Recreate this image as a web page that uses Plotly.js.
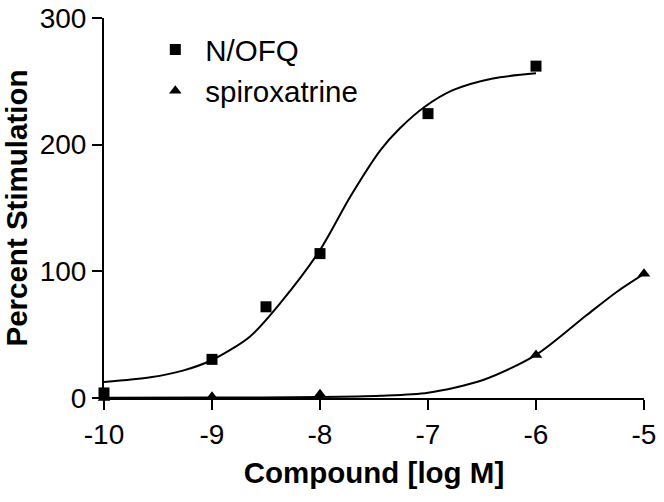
<!DOCTYPE html>
<html>
<head>
<meta charset="utf-8">
<script src="https://cdn.plot.ly/plotly-3.0.1.min.js"></script>
<style>html,body{margin:0;padding:0;background:#fff;}#chart{width:664px;height:502px;}</style>
</head>
<body>
<div id="chart"></div>
<script>
// Measured data points
var nofqX = [-10, -9, -8.5, -8, -7, -6];
var nofqY = [4, 30.5, 72, 114, 224.5, 262];
var spiroX = [-10, -9, -8, -7, -6, -5];
var spiroY = [0, 1, 3, -1, 34, 98];

// Fitted curves
var nofqCurveX = [-10, -9.57, -9.27, -9, -8.65, -8.37, -8, -7.72, -7.44, -7.26, -7.03, -6.77, -6.4, -6];
var nofqCurveY = [12.6, 16.3, 21.6, 30, 48.4, 74.7, 116.8, 158.9, 195.7, 212.9, 229.9, 243, 252.3, 256.3];
var spiroCurveX = [-10, -9, -8, -7.44, -7, -6.49, -6, -5.53, -5.25, -5];
var spiroCurveY = [0.2, 0.3, 0.8, 1.8, 4.2, 14.2, 34, 65.5, 83.9, 98];

var xTicks = [-10, -9, -8, -7, -6, -5];
var yTicks = [0, 100, 200, 300];

var FONT = 'Arial, "Liberation Sans", sans-serif';

var traces = [
  {x: nofqCurveX, y: nofqCurveY, mode: 'lines', line: {color: '#000', width: 2, shape: 'spline', smoothing: 0.8}, showlegend: false, hoverinfo: 'skip'},
  {x: spiroCurveX, y: spiroCurveY, mode: 'lines', line: {color: '#000', width: 2, shape: 'spline', smoothing: 0.8}, showlegend: false, hoverinfo: 'skip'},
  {x: nofqX, y: nofqY, mode: 'markers', name: 'N/OFQ', marker: {symbol: 'square', size: 11, color: '#000'}, cliponaxis: false},
  {x: spiroX, y: spiroY, mode: 'markers', name: 'spiroxatrine', marker: {symbol: 'triangle-up', size: 11, color: '#000'}, cliponaxis: false}
];

var layout = {
  width: 664, height: 502,
  margin: {l: 104, r: 20, t: 18, b: 104},
  paper_bgcolor: '#fff', plot_bgcolor: '#fff',
  font: {family: FONT, color: '#000'},
  showlegend: true,
  legend: {x: 0.0765, y: 0.985, xanchor: 'left', yanchor: 'top', font: {size: 29.5, family: FONT}, bgcolor: 'rgba(0,0,0,0)', itemwidth: 50},
  xaxis: {
    range: [-10, -5], tickvals: xTicks, ticktext: xTicks.map(String),
    showgrid: false, zeroline: false, showline: true, linecolor: '#000', linewidth: 2,
    ticks: 'outside', ticklen: 10, tickwidth: 2, tickcolor: '#000',
    tickfont: {size: 28, family: FONT},
    title: {text: '<b>Compound [log M]</b>', font: {size: 29.5, family: FONT}, standoff: 14},
    automargin: false
  },
  yaxis: {
    range: [0, 300], tickvals: yTicks, ticktext: yTicks.map(String),
    showgrid: false, zeroline: false, showline: true, linecolor: '#000', linewidth: 2,
    ticks: 'outside', ticklen: 10, tickwidth: 2, tickcolor: '#000',
    tickfont: {size: 28, family: FONT},
    title: {text: '<b>Percent Stimulation</b>', font: {size: 29.5, family: FONT}, standoff: 12},
    automargin: false
  }
};

Plotly.newPlot('chart', traces, layout, {displayModeBar: false, staticPlot: true});
</script>
</body>
</html>
